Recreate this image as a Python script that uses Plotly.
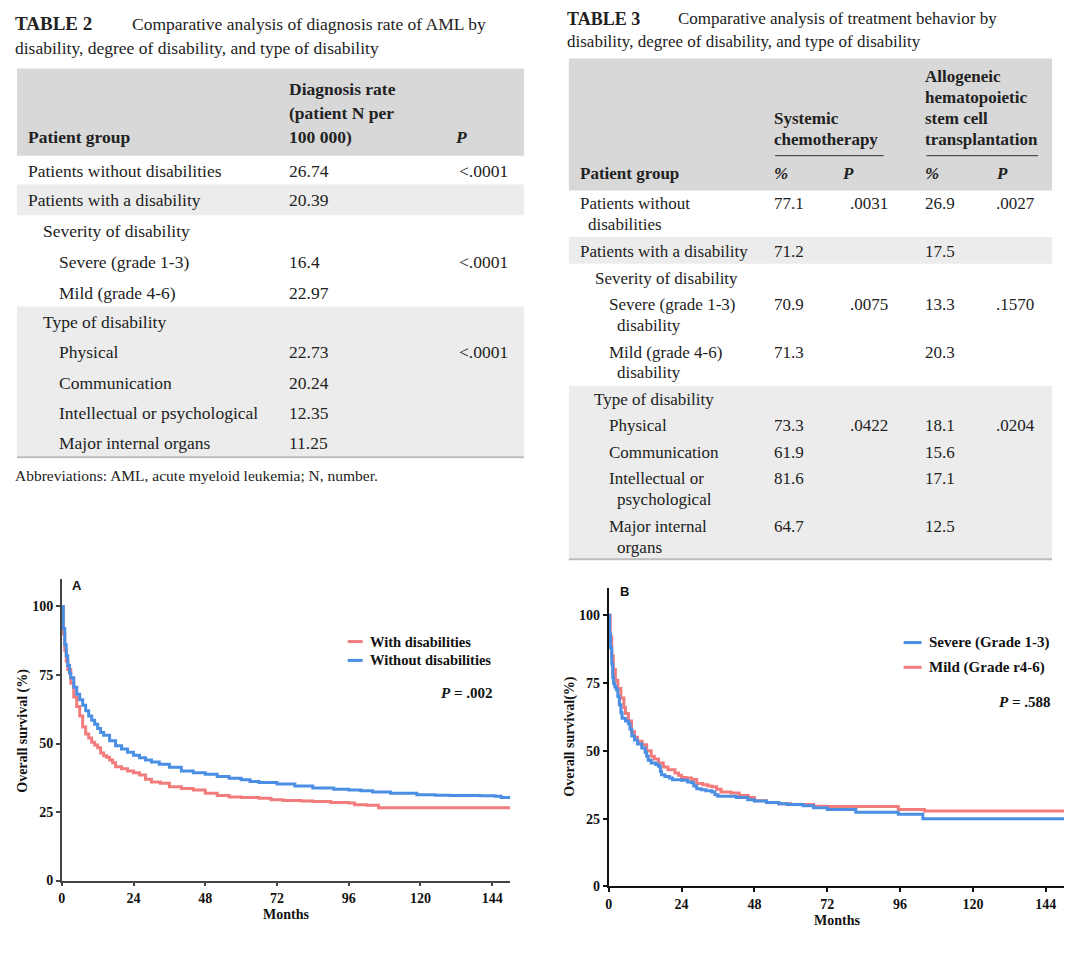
import plotly.graph_objects as go

W, H = 1067, 953
SERIF = "Liberation Serif"
SANS = "Liberation Sans"

# ---------------- DATA ----------------
# Table 2
t2_title = "Comparative analysis of diagnosis rate of AML by"
t2_title2 = "disability, degree of disability, and type of disability"
t2_labels = ["Patients without disabilities", "Patients with a disability", "Severity of disability",
             "Severe (grade 1-3)", "Mild (grade 4-6)", "Type of disability", "Physical",
             "Communication", "Intellectual or psychological", "Major internal organs"]
t2_rates = ["26.74", "20.39", "", "16.4", "22.97", "", "22.73", "20.24", "12.35", "11.25"]
t2_p = ["<.0001", "", "", "<.0001", "", "", "<.0001", "", "", ""]
t2_note = "Abbreviations: AML, acute myeloid leukemia; N, number."

# Table 3
t3_title = "Comparative analysis of treatment behavior by"
t3_title2 = "disability, degree of disability, and type of disability"
t3_labels = [["Patients without", "disabilities"], ["Patients with a disability"], ["Severity of disability"],
             ["Severe (grade 1-3)", "disability"], ["Mild (grade 4-6)", "disability"], ["Type of disability"],
             ["Physical"], ["Communication"], ["Intellectual or", "psychological"], ["Major internal", "organs"]]
t3_chemo_pct = ["77.1", "71.2", "", "70.9", "71.3", "", "73.3", "61.9", "81.6", "64.7"]
t3_chemo_p = [".0031", "", "", ".0075", "", "", ".0422", "", "", ""]
t3_hsct_pct = ["26.9", "17.5", "", "13.3", "20.3", "", "18.1", "15.6", "17.1", "12.5"]
t3_hsct_p = [".0027", "", "", ".1570", "", "", ".0204", "", "", ""]

# Panel A Kaplan-Meier (months, overall survival %)
a_with_t = [0, 0.5, 1, 1.5, 2, 3, 4, 5, 6, 7, 8, 9, 10, 11, 12, 13, 14, 15, 16, 17, 18, 20, 22, 24, 26, 28,
            30, 33, 36, 40, 44, 48, 52, 56, 60, 66, 70, 74, 80, 84, 90, 96, 98, 102, 106, 150]
a_with_s = [100, 90, 84, 80, 77, 72, 67, 63.5, 60, 56, 53.5, 52, 50.5, 49.5, 48.5, 46.5, 45.5, 45, 44, 43,
            41.5, 40.8, 40, 39.3, 38.5, 37, 36, 35.5, 34.2, 33.6, 33, 31.9, 31, 30.5, 30.3, 30, 29.5, 29.2,
            29, 28.8, 28.5, 28.3, 27.7, 27.5, 26.6, 26.6]
a_without_t = [0, 0.5, 1, 1.5, 2, 2.6, 3, 4, 5, 6, 7, 8, 9, 10, 11, 12, 13, 14, 16, 18, 20, 22, 24, 26, 28,
               30, 32.6, 36, 40, 44, 48, 52, 56, 60, 63, 66, 72, 78, 84, 91, 96, 100, 104, 110, 118.8, 125,
               130, 140, 145, 147, 150]
a_without_s = [100, 92, 86, 82, 78.5, 75.6, 74, 70.5, 68, 66, 64, 62, 60, 58.5, 57, 55.5, 54, 53, 51, 49.2,
               48, 46.8, 45.7, 44.8, 44, 43.3, 42.4, 41.3, 40, 39.3, 38.8, 38, 37.3, 36.8, 36.1, 35.8, 35.2,
               34.5, 33.8, 33.3, 33, 32.8, 32.3, 31.9, 31.3, 31.1, 31, 30.9, 30.8, 30.3, 29.9]

# Panel B Kaplan-Meier
b_severe_t = [0, 0.3, 0.6, 1, 1.3, 1.6, 2, 2.5, 3, 3.5, 4, 4.4, 5.5, 6.5, 7, 7.6, 8.5, 9.5, 10.9, 12, 12.5,
              13, 14, 15.5, 16.4, 17, 17.4, 18.5, 20, 21, 24, 26, 27.3, 28, 29, 30.5, 32, 34, 35, 36, 42,
              45.8, 48, 52, 56, 58.9, 64, 67.5, 72, 81.4, 95.4, 103.5, 150]
b_severe_s = [100, 93, 88, 82, 77, 74.8, 73.5, 72.5, 70, 67, 64, 62, 61, 60, 58, 55.5, 54, 52.5, 51, 49.5,
              48, 46.5, 45.5, 45, 44.3, 42.5, 41.2, 40.5, 40, 39.3, 39.2, 38.5, 38.2, 37, 36, 35.7, 35.3,
              34.8, 33.8, 33.3, 32.8, 32, 31.5, 31, 30.5, 30.2, 29.8, 29, 28.4, 27.4, 26.6, 25, 25]
b_mild_t = [0, 0.5, 1, 1.5, 2.2, 3, 4, 5, 5.5, 6.5, 7.5, 8.5, 9.5, 11, 12.5, 14, 15, 16.4, 18, 19.5, 21.8,
            23, 24, 25.5, 27.3, 29, 31, 32.7, 34, 35.5, 37, 40.3, 43, 46, 48, 52, 56, 60, 67.5, 72, 80,
            95.4, 104, 150]
b_mild_s = [100, 92, 85, 80, 76, 73, 69.5, 66, 63.8, 61, 57, 55, 53.5, 52.2, 50, 48, 47, 45.5, 44, 43,
            41.8, 41, 40.2, 40, 39.4, 38, 37.5, 37, 36.8, 35.8, 34.8, 34.5, 33.5, 32.8, 31.6, 31, 30.5,
            30.2, 29.6, 29.5, 29.5, 28.4, 27.8, 27.8]

x_ticks = [0, 24, 48, 72, 96, 120, 144]
y_ticks = [0, 25, 50, 75, 100]

RED = "#F27C7C"
BLUE = "#4A8FE3"


def px(x):
    return x / W


def py(y):
    return 1 - y / H


fig = go.Figure()
shapes = []
ann = []
PAD = 4  # annotation inner padding compensation


def text(x, y, s, size=17.5, anchor="left", bold=False, italic=False, family=SERIF, color="#222"):
    if bold:
        s = "<b>" + s + "</b>"
    if italic:
        s = "<i>" + s + "</i>"
    if anchor == "left":
        x = x - PAD
    elif anchor == "right":
        x = x + PAD
    ann.append(dict(x=px(x), y=py(y), xref="paper", yref="paper", text=s, showarrow=False,
                    xanchor=anchor, yanchor="middle", font=dict(family=family, size=size, color=color)))


def rect(x0, y0, x1, y1, color):
    shapes.append(dict(type="rect", xref="paper", yref="paper", x0=px(x0), x1=px(x1), y0=py(y1), y1=py(y0),
                       fillcolor=color, line=dict(width=0), layer="below"))


def hline(x0, x1, y, color="#333", width=1):
    shapes.append(dict(type="line", xref="paper", yref="paper", x0=px(x0), x1=px(x1), y0=py(y), y1=py(y),
                       line=dict(color=color, width=width)))


HEAD = "#d8d8d8"
BAND = "#ececec"

# ---------------- TABLE 2 ----------------
T2 = 17.5
text(13, 24, "TABLE 2", size=19, bold=True)
text(130, 24, t2_title, size=T2)
text(13, 48, t2_title2, size=T2)
rect(13, 69, 522, 157, HEAD)
rect(13, 186, 522, 217, BAND)
rect(13, 309, 522, 461, BAND)
hline(13, 522, 461, color="#bdbdbd", width=2)
text(26, 138, "Patient group", size=T2, bold=True)
text(288, 90, "Diagnosis rate", size=T2, bold=True)
text(288, 114, "(patient N per", size=T2, bold=True)
text(288, 138, "100 000)", size=T2, bold=True)
text(455, 138, "P", size=T2, bold=True, italic=True)
t2_y = [172, 202, 233, 264, 295, 325, 355, 386, 416, 447]
t2_x = [26, 26, 41, 57, 57, 41, 57, 57, 57, 57]
for i, lab in enumerate(t2_labels):
    text(t2_x[i], t2_y[i], lab, size=T2)
    if t2_rates[i]:
        text(288, t2_y[i], t2_rates[i], size=T2)
    if t2_p[i]:
        text(459, t2_y[i], t2_p[i], size=T2)
text(13, 480, t2_note, size=15.5)

# ---------------- TABLE 3 ----------------
T3 = 17
text(567, 19, "TABLE 3", size=18, bold=True)
text(679, 19, t3_title, size=T3)
text(567, 42, t3_title2, size=T3)
rect(567, 59, 1052, 192, HEAD)
rect(567, 239, 1052, 266, BAND)
rect(567, 389, 1052, 564, BAND)
hline(567, 1052, 564, color="#bdbdbd", width=2)
text(775, 119, "Systemic", size=T3, bold=True)
text(775, 141, "chemotherapy", size=T3, bold=True)
hline(774, 883, 157, color="#333", width=1)
text(926, 77, "Allogeneic", size=T3, bold=True)
text(926, 98.5, "hematopoietic", size=T3, bold=True)
text(926, 120, "stem cell", size=T3, bold=True)
text(926, 141, "transplantation", size=T3, bold=True)
hline(926, 1038, 157, color="#333", width=1)
text(580, 175, "Patient group", size=T3, bold=True)
text(775, 175, "%", size=T3, bold=True, italic=True)
text(843, 175, "P", size=T3, bold=True, italic=True)
text(926, 175, "%", size=T3, bold=True, italic=True)
text(998, 175, "P", size=T3, bold=True, italic=True)
t3_y = [205, 254, 281, 307, 355, 403, 429, 456, 483, 531]
t3_x = [580, 580, 595, 609, 609, 594, 609, 609, 609, 609]
for i, lines in enumerate(t3_labels):
    for j, ln in enumerate(lines):
        text(t3_x[i] + (8 if j else 0), t3_y[i] + 21 * j, ln, size=T3)
    if t3_chemo_pct[i]:
        text(775, t3_y[i], t3_chemo_pct[i], size=T3)
    if t3_chemo_p[i]:
        text(851, t3_y[i], t3_chemo_p[i], size=T3)
    if t3_hsct_pct[i]:
        text(926, t3_y[i], t3_hsct_pct[i], size=T3)
    if t3_hsct_p[i]:
        text(998, t3_y[i], t3_hsct_p[i], size=T3)

# ---------------- KM PLOTS ----------------
fig.add_trace(go.Scatter(x=a_with_t, y=a_with_s, mode="lines", line=dict(color=RED, width=3, shape="hv"),
                         name="With disabilities", showlegend=False, xaxis="x", yaxis="y"))
fig.add_trace(go.Scatter(x=a_without_t, y=a_without_s, mode="lines", line=dict(color=BLUE, width=3, shape="hv"),
                         name="Without disabilities", showlegend=False, xaxis="x", yaxis="y"))
fig.add_trace(go.Scatter(x=b_mild_t, y=b_mild_s, mode="lines", line=dict(color=RED, width=3, shape="hv"),
                         name="Mild (Grade r4-6)", showlegend=False, xaxis="x2", yaxis="y2"))
fig.add_trace(go.Scatter(x=b_severe_t, y=b_severe_s, mode="lines", line=dict(color=BLUE, width=3, shape="hv"),
                         name="Severe (Grade 1-3)", showlegend=False, xaxis="x2", yaxis="y2"))

tickfont = dict(family=SERIF, size=14, color="#111", weight="bold")
axis_common = dict(showgrid=False, zeroline=False, showline=True, ticks="outside", ticklen=4,
                   tickwidth=1.5, tickfont=tickfont, fixedrange=True)

fig.update_layout(
    xaxis=dict(domain=[px(58), px(508)], range=[0, 150], tickvals=x_ticks, anchor="y",
               linecolor="#444", linewidth=1.5, tickcolor="#444", **axis_common),
    yaxis=dict(domain=[py(888), py(584)], range=[0, 110], tickvals=y_ticks, anchor="x",
               linecolor="#444", linewidth=1.5, tickcolor="#444", **axis_common),
    xaxis2=dict(domain=[px(607), px(1064)], range=[0, 150], tickvals=x_ticks, anchor="y2",
                linecolor="#111", linewidth=2, tickcolor="#111", **axis_common),
    yaxis2=dict(domain=[py(894), py(593)], range=[0, 110], tickvals=y_ticks, anchor="x2",
                linecolor="#111", linewidth=2, tickcolor="#111", **axis_common),
)

# Panel A decorations
text(70, 590, "A", size=13, bold=True, family=SANS, color="#111")
shapes.append(dict(type="line", xref="paper", yref="paper", x0=px(345), x1=px(360), y0=py(647), y1=py(647),
                   line=dict(color=RED, width=3)))
shapes.append(dict(type="line", xref="paper", yref="paper", x0=px(345), x1=px(360), y0=py(666), y1=py(666),
                   line=dict(color=BLUE, width=3)))
text(369, 647, "With disabilities", size=14.5, bold=True, color="#111")
text(369, 666, "Without disabilities", size=14.5, bold=True, color="#111")
text(488, 699, "<i>P</i> = .002", size=15, bold=True, anchor="right", color="#111")
text(283, 922, "Months", size=14, bold=True, anchor="center", color="#111")
ann.append(dict(x=px(19), y=py(737), xref="paper", yref="paper", text="<b>Overall survival (%)</b>",
                showarrow=False, textangle=-90, xanchor="center", yanchor="middle",
                font=dict(family=SERIF, size=14, color="#111")))

# Panel B decorations
text(620, 597, "B", size=13, bold=True, family=SANS, color="#111")
shapes.append(dict(type="line", xref="paper", yref="paper", x0=px(903), x1=px(921), y0=py(648), y1=py(648),
                   line=dict(color=BLUE, width=3)))
shapes.append(dict(type="line", xref="paper", yref="paper", x0=px(903), x1=px(921), y0=py(673), y1=py(673),
                   line=dict(color=RED, width=3)))
text(930, 648, "Severe (Grade 1-3)", size=15, bold=True, color="#111")
text(930, 673, "Mild (Grade r4-6)", size=15, bold=True, color="#111")
text(1048, 708, "<i>P</i> = .588", size=15, bold=True, anchor="right", color="#111")
text(836, 928, "Months", size=14, bold=True, anchor="center", color="#111")
ann.append(dict(x=px(568), y=py(743), xref="paper", yref="paper", text="<b>Overall survival(%)</b>",
                showarrow=False, textangle=-90, xanchor="center", yanchor="middle",
                font=dict(family=SERIF, size=14, color="#111")))

fig.update_layout(width=W, height=H, margin=dict(l=0, r=0, t=0, b=0), paper_bgcolor="white",
                  plot_bgcolor="white", showlegend=False, shapes=shapes, annotations=ann)

fig.write_html("out.html", config={"displayModeBar": False})
